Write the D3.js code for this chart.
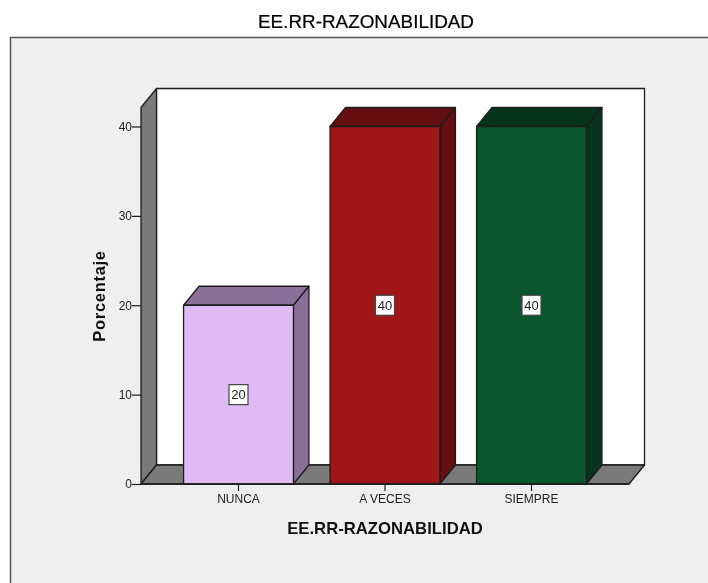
<!DOCTYPE html>
<html>
<head>
<meta charset="utf-8">
<script src="https://d3js.org/d3.v7.min.js"></script>
<style>
  html, body { margin: 0; padding: 0; background: #fff; }
  svg { display: block; font-family: "Liberation Sans", Arial, sans-serif; filter: blur(0.35px); }
</style>
</head>
<body>
<script>
// values
var categories = ["NUNCA", "A VECES", "SIEMPRE"];
var percents = [20, 40, 40];
var yTicks = [0, 10, 20, 30, 40];
var frontColors = ["#dfbbf3", "#a01518", "#0b562d"];
var shadeColors = ["#8a7098", "#650e11", "#06351c"];
var chartTitle = "EE.RR-RAZONABILIDAD";
var yTitle = "Porcentaje";

var width = 708, height = 583;
var depthX = 15.5, depthY = 19;
var left = 141, right = 629, bottom = 484;
var wallColor = "#7a7a7a", lineColor = "#1c1c1c";

var svg = d3.select("body").append("svg")
  .attr("width", width)
  .attr("height", height);

// outer panel, open on the right and bottom
svg.append("rect").attr("x", 0).attr("y", 0).attr("width", width).attr("height", height).attr("fill", "#fff");
svg.append("rect").attr("x", 10.5).attr("y", 37.5).attr("width", width).attr("height", height)
  .attr("fill", "#efefef").attr("stroke", "#555").attr("stroke-width", 1.5);

svg.append("text")
  .attr("x", 366).attr("y", 28)
  .attr("text-anchor", "middle")
  .attr("font-size", 18)
  .attr("textLength", 216).attr("lengthAdjust", "spacingAndGlyphs")
  .attr("stroke", "#000").attr("stroke-width", 0.2)
  .text(chartTitle);

var y = d3.scaleLinear().domain([0, 40]).range([bottom, 126.5]);
var yTop = 107.5; // front top of the left wall

var x = d3.scaleBand().domain(categories)
  .range([165.25, 604.75])
  .paddingInner(0.25)
  .paddingOuter(0.125);

function poly(points, fill) {
  return svg.append("polygon")
    .attr("points", points.map(function(p) { return p.join(","); }).join(" "))
    .attr("fill", fill)
    .attr("stroke", lineColor)
    .attr("stroke-width", 1.3)
    .attr("stroke-linejoin", "round");
}

// back wall, left wall, floor
poly([[left + depthX, yTop - depthY], [right + depthX, yTop - depthY], [right + depthX, bottom - depthY], [left + depthX, bottom - depthY]], "#fff");
poly([[left, yTop], [left + depthX, yTop - depthY], [left + depthX, bottom - depthY], [left, bottom]], wallColor);
poly([[left, bottom], [left + depthX, bottom - depthY], [right + depthX, bottom - depthY], [right, bottom]], wallColor);

// bars
categories.forEach(function(c, i) {
  var x0 = x(c), x1 = x0 + x.bandwidth(), top = y(percents[i]);
  poly([[x0, top], [x0 + depthX, top - depthY], [x1 + depthX, top - depthY], [x1, top]], shadeColors[i]);
  poly([[x1, top], [x1 + depthX, top - depthY], [x1 + depthX, bottom - depthY], [x1, bottom]], shadeColors[i]);
  poly([[x0, top], [x1, top], [x1, bottom], [x0, bottom]], frontColors[i]);
});

// axes
var yAxis = d3.axisLeft(y).tickValues(yTicks).tickSize(9).tickPadding(0);
var gy = svg.append("g").attr("transform", "translate(" + left + ",0)").call(yAxis);
gy.select(".domain").remove();

var xAxis = d3.axisBottom(x).tickSize(7).tickPadding(3).tickSizeOuter(0);
var gx = svg.append("g").attr("transform", "translate(0," + bottom + ")").call(xAxis);
gx.select(".domain").remove();
svg.append("line").attr("x1", left).attr("x2", right).attr("y1", bottom).attr("y2", bottom)
  .attr("stroke", lineColor).attr("stroke-width", 1.3);

svg.selectAll(".tick line").attr("stroke", lineColor).attr("stroke-width", 1.2);
svg.selectAll(".tick text").attr("fill", "#222").attr("font-size", 12)
  .attr("font-family", "'Liberation Sans', Arial, sans-serif");

// value labels in the middle of each bar
var labels = svg.selectAll("g.val").data(categories).enter().append("g")
  .attr("class", "val")
  .attr("transform", function(c, i) {
    return "translate(" + (x(c) + x.bandwidth() / 2) + "," + y(percents[i] / 2) + ")";
  });
labels.append("rect")
  .attr("x", -9.5).attr("y", -10).attr("width", 19).attr("height", 20)
  .attr("fill", "#fff").attr("stroke", "#444").attr("stroke-width", 1.2);
labels.append("text")
  .attr("text-anchor", "middle").attr("dy", "0.36em")
  .attr("font-size", 13).attr("fill", "#222")
  .text(function(c, i) { return percents[i]; });

// axis titles
svg.append("text")
  .attr("transform", "translate(105,296) rotate(-90)")
  .attr("text-anchor", "middle")
  .attr("font-size", 16.5).attr("font-weight", "bold").attr("fill", "#111")
  .attr("letter-spacing", 0.7)
  .text(yTitle);
svg.append("text")
  .attr("x", 385).attr("y", 534)
  .attr("text-anchor", "middle")
  .attr("font-size", 16.7).attr("font-weight", "bold").attr("fill", "#111")
  .text(chartTitle);
</script>
</body>
</html>
